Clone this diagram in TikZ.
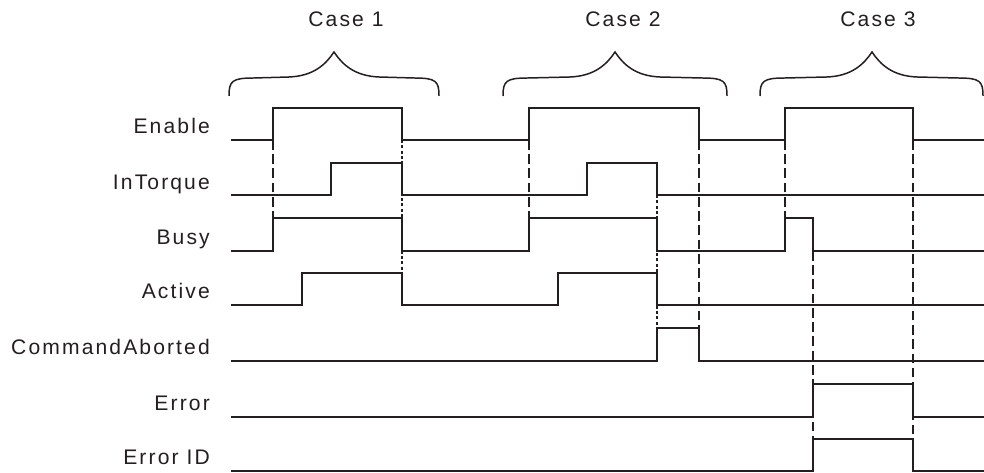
\documentclass[tikz,border=0pt]{standalone}
\usepackage{fontspec}
\setmainfont{Liberation Sans}[LetterSpace=10]
\definecolor{ink}{HTML}{231F20}
\tikzset{
  wave/.style={draw=ink,line width=0.85pt,line join=miter},
  guide/.style={draw=ink,line width=1.5pt,dash pattern=on 5.5pt off 2.6pt},
  guidedot/.style={draw=ink,line width=1.5pt,dash pattern=on 1.8pt off 1.2pt},
  bracecurve/.style={draw=ink,line width=0.85pt},
  sig/.style={anchor=base east,text=ink,font=\fontsize{12}{14}\selectfont},
  casetext/.style={anchor=base,text=ink,font=\fontsize{12}{14}\selectfont}
}
\begin{document}
\begin{tikzpicture}[x=0.2mm,y=-0.2mm]
\useasboundingbox (0,0) rectangle (984,473);
% case labels and braces
\foreach \x/\n in {346/1,623/2,878/3}
  \node[casetext] (case\n) at (\x,27) {Case \n};
\foreach \l/\m/\r in {229/334/439,503/615/727,760/872/983}
  \draw[bracecurve] (\l,96) .. controls (\l,81) and (\l+3,78) .. (\l+25,78)
    -- (\m-45,77) .. controls (\m-20,76) and (\m-8,64) .. (\m,52)
    .. controls (\m+8,64) and (\m+20,76) .. (\m+45,77)
    -- (\r-25,78) .. controls (\r-3,78) and (\r,81) .. (\r,96);
% signal names
\foreach \y/\t/\n in {134/Enable/en,190/InTorque/intq,245/Busy/busy,299/Active/act,
    355/CommandAborted/cmdab,411/Error/err,465/Error ID/errid}
  \node[sig] (\n) at (216,\y) {\t};
% guides
\draw[guide] (273,140) -- (273,218);
\draw[guidedot] (402,140) -- (402,273);
\draw[guide] (529,140) -- (529,218);
\draw[guidedot] (657,195) -- (657,328);
\draw[guide] (699,140) -- (699,361);
\draw[guide] (785,140) -- (785,218);
\draw[guide] (813,251) -- (813,439);
\draw[guide] (913,140) -- (913,439);
% waveforms
\draw[wave] (231,140) -- (273,140) -- (273,108) -- (402,108) -- (402,140) -- (529,140)
  -- (529,108) -- (699,108) -- (699,140) -- (785,140) -- (785,108) -- (913,108)
  -- (913,140) -- (984,140);
\draw[wave] (231,195) -- (331,195) -- (331,163) -- (402,163) -- (402,195) -- (587,195)
  -- (587,163) -- (657,163) -- (657,195) -- (984,195);
\draw[wave] (231,251) -- (273,251) -- (273,218) -- (402,218) -- (402,251) -- (529,251)
  -- (529,218) -- (657,218) -- (657,251) -- (785,251) -- (785,218) -- (813,218)
  -- (813,251) -- (984,251);
\draw[wave] (231,305) -- (302,305) -- (302,273) -- (402,273) -- (402,305) -- (558,305)
  -- (558,273) -- (657,273) -- (657,305) -- (984,305);
\draw[wave] (231,361) -- (657,361) -- (657,328) -- (699,328) -- (699,361) -- (984,361);
\draw[wave] (231,417) -- (813,417) -- (813,384) -- (913,384) -- (913,417) -- (984,417);
\draw[wave] (231,471) -- (813,471) -- (813,439) -- (913,439) -- (913,471) -- (984,471);
\end{tikzpicture}
\end{document}
